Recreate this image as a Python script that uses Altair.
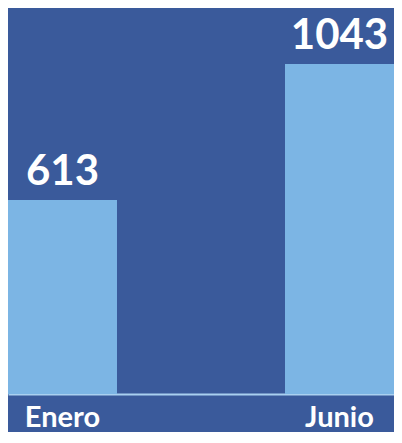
import altair as alt
import pandas as pd

months = ["Enero", "Junio"]
values = [613, 1043]

df = pd.DataFrame({"mes": months, "valor": values})

base = alt.Chart(df)

x_enc = alt.X(
    "mes:N",
    sort=months,
    scale=alt.Scale(paddingInner=0.6065, paddingOuter=0),
    axis=alt.Axis(
        title=None,
        labelAngle=0,
        labelFont="Lato",
        labelFontSize=29,
        labelFontWeight="bold",
        labelColor="#ffffff",
        labelPadding=9,
        ticks=False,
        domainColor="#a9d0f0",
        domainWidth=2,
    ),
)
y_enc = alt.Y(
    "valor:Q",
    scale=alt.Scale(domain=[0, 1220], nice=False),
    axis=None,
)

bars = base.mark_bar(color="#7cb5e4").encode(x=x_enc, y=y_enc)

labels = base.mark_text(
    font="Lato",
    fontSize=42,
    fontWeight="bold",
    color="#ffffff",
    baseline="alphabetic",
    dy=-15,
).encode(x=alt.X("mes:N", sort=months), y="valor:Q", text="valor:Q")

chart = (
    alt.layer(bars, labels)
    .properties(
        width=386,
        height=386,
        autosize="none",
        padding={"left": 0, "top": 0, "right": 0, "bottom": 38},
        background="#3a5a9b",
    )
    .configure_view(stroke=None)
)

chart.save("out.html", embed_options={"renderer": "svg", "actions": False})
